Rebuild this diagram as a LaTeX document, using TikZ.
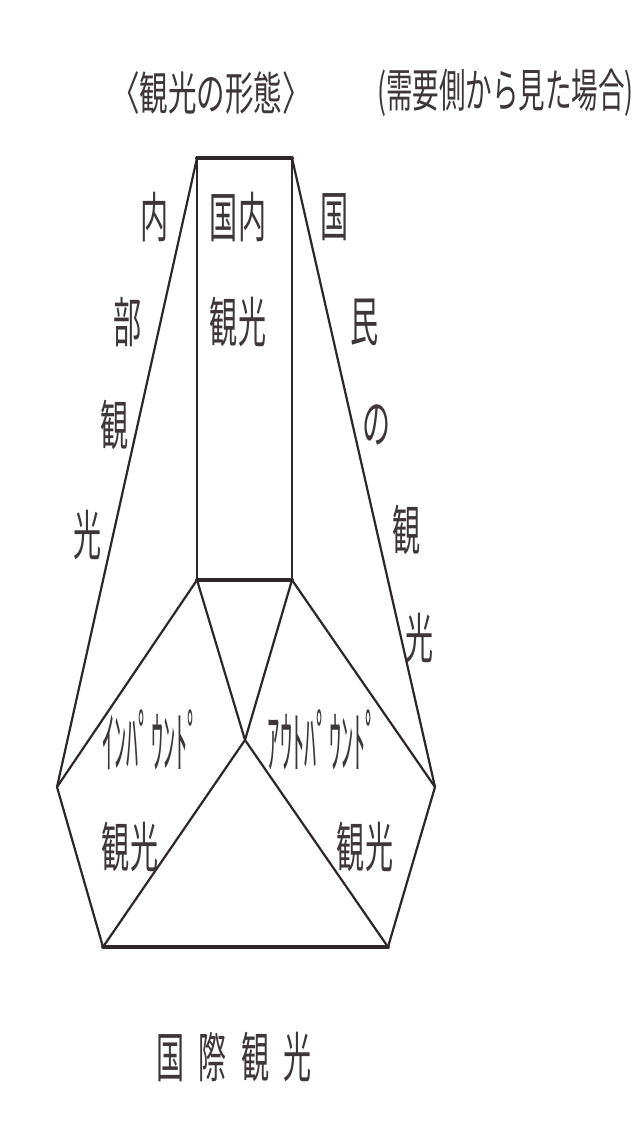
\documentclass[tikz,border=0pt]{standalone}
\usepackage{fontspec}
\newfontfamily\cjk{Noto Sans CJK JP}
\definecolor{ink}{HTML}{2E2628}
\definecolor{txt}{HTML}{3E3638}
\tikzset{
  edge/.style={draw=ink, line width=2.2pt, line join=round, line cap=round},
  thickedge/.style={draw=ink, line width=3.8pt, line cap=round},
  big/.style={font=\cjk\fontsize{54}{54}\selectfont, text=txt, inner sep=0pt, xscale=0.52},
  kana/.style={font=\cjk\fontsize{68}{68}\selectfont, text=txt, inner sep=0pt, xscale=0.36},
  ttl/.style={font=\cjk\fontsize{46}{46}\selectfont, text=txt, inner sep=0pt, xscale=0.62},
}
\begin{document}
\begin{tikzpicture}[x=1pt,y=-1pt]
\useasboundingbox (0,0) rectangle (644,1124);
\clip (0,0) rectangle (644,1124);
\fill[white] (0,0) rectangle (644,1124);

% vertices
\coordinate (TL) at (197,158);
\coordinate (TR) at (292,158);
\coordinate (RBL) at (197,580);
\coordinate (RBR) at (292,580);
\coordinate (L) at (57,787);
\coordinate (R) at (435,787);
\coordinate (C) at (245,740);
\coordinate (BL) at (103,947);
\coordinate (BR) at (388,947);

% lines
\draw[edge] (TL) -- (RBL);
\draw[edge] (TR) -- (RBR);
\draw[edge] (TL) -- (L);
\draw[edge] (TR) -- (R);
\draw[edge] (L) -- (BL);
\draw[edge] (R) -- (BR);
\draw[edge] (RBL) -- (L);
\draw[edge] (RBR) -- (R);
\draw[edge] (RBL) -- (C);
\draw[edge] (RBR) -- (C);
\draw[edge] (C) -- (BL);
\draw[edge] (C) -- (BR);
\draw[thickedge] (TL) -- (TR);
\draw[thickedge] (RBL) -- (RBR);
\draw[thickedge] (BL) -- (BR);

% titles
\node[ttl] (title) at (211,93) {〈観光の形態〉};
\node[ttl, anchor=west, xscale=0.93] (sub) at (377,93) {(需要側から見た場合)};

% left vertical label
\node[big] (n1) at (155,217) {内};
\node[big] (n2) at (128,322) {部};
\node[big] (n3) at (115,425) {観};
\node[big] (n4) at (88,535) {光};

% centre box
\node[big] (d1) at (238,217) {国内};
\node[big] (d2) at (238,322) {観光};

% right vertical label
\node[big] (k1) at (335,217) {国};
\node[big] (k2) at (365,322) {民};
\node[big] (k3) at (377,425) {の};
\node[big] (k4) at (407,530) {観};
\node[big] (k5) at (420,638) {光};

% lower labels
\node[kana] (ib) at (151,740) {ｲﾝﾊﾟｳﾝﾄﾟ};
\node[kana] (ob) at (323,740) {ｱｳﾄﾊﾟｳﾝﾄﾟ};
\node[big] (ik) at (130,847) {観光};
\node[big] (ok) at (365,847) {観光};

% bottom
\node[big] (intl) at (234,1057) {国\hspace{0.5em}際\hspace{0.5em}観\hspace{0.5em}光};
\end{tikzpicture}
\end{document}
